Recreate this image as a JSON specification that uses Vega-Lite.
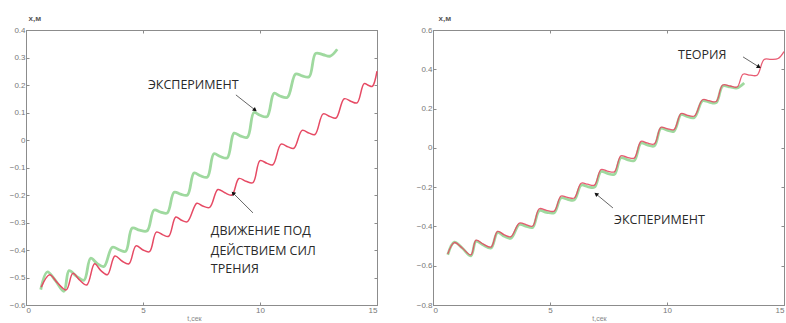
{
  "$schema": "https://vega.github.io/schema/vega-lite/v6.json",
  "autosize": {"type": "pad"},
  "padding": {"left": 8, "top": 13, "right": 0, "bottom": 0},
  "background": "white",
  "spacing": 56,
  "bounds": "flush",
  "config": {
    "view": {"stroke": "#8c8c8c", "strokeWidth": 1},
    "axis": {
      "grid": false,
      "labelFont": "Liberation Sans",
      "labelFontSize": 8,
      "labelColor": "#777777",
      "domainColor": "#8c8c8c",
      "tickColor": "#8c8c8c",
      "tickSize": -3,
      "labelPadding": 4,
      "titleFont": "Liberation Sans"
    }
  },
  "datasets": {
    "experiment": [
      {"t": 0.63, "x": -0.544}, {"t": 0.91, "x": -0.48}, {"t": 1.25, "x": -0.51}, {"t": 1.62, "x": -0.55},
      {"t": 1.84, "x": -0.475}, {"t": 2.15, "x": -0.495}, {"t": 2.48, "x": -0.51},
      {"t": 2.76, "x": -0.43}, {"t": 3.05, "x": -0.45}, {"t": 3.33, "x": -0.46},
      {"t": 3.69, "x": -0.39}, {"t": 4.0, "x": -0.4}, {"t": 4.26, "x": -0.405},
      {"t": 4.54, "x": -0.32}, {"t": 4.85, "x": -0.328}, {"t": 5.18, "x": -0.33},
      {"t": 5.47, "x": -0.255}, {"t": 5.75, "x": -0.262}, {"t": 6.04, "x": -0.265},
      {"t": 6.33, "x": -0.19}, {"t": 6.6, "x": -0.197}, {"t": 6.9, "x": -0.2},
      {"t": 7.18, "x": -0.12}, {"t": 7.45, "x": -0.13}, {"t": 7.75, "x": -0.135},
      {"t": 8.03, "x": -0.05}, {"t": 8.3, "x": -0.06}, {"t": 8.6, "x": -0.065},
      {"t": 8.89, "x": 0.025}, {"t": 9.15, "x": 0.015}, {"t": 9.46, "x": 0.01},
      {"t": 9.74, "x": 0.1}, {"t": 10.0, "x": 0.09}, {"t": 10.3, "x": 0.085},
      {"t": 10.6, "x": 0.17}, {"t": 10.85, "x": 0.16}, {"t": 11.17, "x": 0.155},
      {"t": 11.52, "x": 0.24}, {"t": 11.8, "x": 0.233}, {"t": 12.1, "x": 0.23},
      {"t": 12.38, "x": 0.315}, {"t": 12.7, "x": 0.31}, {"t": 13.0, "x": 0.305},
      {"t": 13.3, "x": 0.33}
    ],
    "friction": [
      {"t": 0.65, "x": -0.535}, {"t": 1.01, "x": -0.49}, {"t": 1.35, "x": -0.52}, {"t": 1.72, "x": -0.545},
      {"t": 2.0, "x": -0.485}, {"t": 2.3, "x": -0.51}, {"t": 2.6, "x": -0.527},
      {"t": 2.93, "x": -0.45}, {"t": 3.2, "x": -0.475}, {"t": 3.48, "x": -0.49},
      {"t": 3.8, "x": -0.422}, {"t": 4.1, "x": -0.44}, {"t": 4.4, "x": -0.45},
      {"t": 4.7, "x": -0.385}, {"t": 5.0, "x": -0.4}, {"t": 5.28, "x": -0.406},
      {"t": 5.57, "x": -0.335}, {"t": 5.85, "x": -0.345}, {"t": 6.1, "x": -0.35},
      {"t": 6.4, "x": -0.28}, {"t": 6.65, "x": -0.292}, {"t": 6.9, "x": -0.297},
      {"t": 7.3, "x": -0.23}, {"t": 7.55, "x": -0.24}, {"t": 7.85, "x": -0.245},
      {"t": 8.2, "x": -0.18}, {"t": 8.5, "x": -0.192}, {"t": 8.8, "x": -0.2},
      {"t": 9.1, "x": -0.14}, {"t": 9.4, "x": -0.15}, {"t": 9.7, "x": -0.155},
      {"t": 10.0, "x": -0.075}, {"t": 10.3, "x": -0.085}, {"t": 10.55, "x": -0.09},
      {"t": 10.9, "x": -0.015}, {"t": 11.2, "x": -0.025}, {"t": 11.45, "x": -0.03},
      {"t": 11.8, "x": 0.035}, {"t": 12.1, "x": 0.025}, {"t": 12.35, "x": 0.02},
      {"t": 12.7, "x": 0.095}, {"t": 13.0, "x": 0.085}, {"t": 13.25, "x": 0.08},
      {"t": 13.6, "x": 0.15}, {"t": 13.9, "x": 0.14}, {"t": 14.15, "x": 0.135},
      {"t": 14.45, "x": 0.205}, {"t": 14.65, "x": 0.198}, {"t": 14.8, "x": 0.195},
      {"t": 15.0, "x": 0.25}
    ],
    "theory": [
      {"t": 0.63, "x": -0.54}, {"t": 0.91, "x": -0.482}, {"t": 1.25, "x": -0.51}, {"t": 1.62, "x": -0.545},
      {"t": 1.84, "x": -0.47}, {"t": 2.15, "x": -0.49}, {"t": 2.48, "x": -0.505},
      {"t": 2.76, "x": -0.425}, {"t": 3.05, "x": -0.443}, {"t": 3.33, "x": -0.452},
      {"t": 3.69, "x": -0.383}, {"t": 4.0, "x": -0.392}, {"t": 4.26, "x": -0.398},
      {"t": 4.54, "x": -0.31}, {"t": 4.85, "x": -0.318}, {"t": 5.18, "x": -0.322},
      {"t": 5.47, "x": -0.245}, {"t": 5.75, "x": -0.252}, {"t": 6.04, "x": -0.255},
      {"t": 6.33, "x": -0.18}, {"t": 6.6, "x": -0.185}, {"t": 6.9, "x": -0.19},
      {"t": 7.18, "x": -0.11}, {"t": 7.45, "x": -0.118}, {"t": 7.75, "x": -0.122},
      {"t": 8.03, "x": -0.04}, {"t": 8.3, "x": -0.048}, {"t": 8.6, "x": -0.052},
      {"t": 8.89, "x": 0.033}, {"t": 9.15, "x": 0.025}, {"t": 9.46, "x": 0.02},
      {"t": 9.74, "x": 0.105}, {"t": 10.0, "x": 0.098}, {"t": 10.3, "x": 0.093},
      {"t": 10.6, "x": 0.175}, {"t": 10.85, "x": 0.167}, {"t": 11.17, "x": 0.162},
      {"t": 11.52, "x": 0.245}, {"t": 11.8, "x": 0.24}, {"t": 12.1, "x": 0.236},
      {"t": 12.38, "x": 0.32}, {"t": 12.7, "x": 0.315}, {"t": 13.0, "x": 0.31},
      {"t": 13.25, "x": 0.375}, {"t": 13.55, "x": 0.37}, {"t": 13.85, "x": 0.37},
      {"t": 14.15, "x": 0.45}, {"t": 14.45, "x": 0.45}, {"t": 14.75, "x": 0.455},
      {"t": 15.0, "x": 0.49}
    ],
    "notesL": [
      {"t": 5.21, "x": 0.2, "label": "ЭКСПЕРИМЕНТ"},
      {"t": 7.9, "x": -0.331, "label": "ДВИЖЕНИЕ ПОД"},
      {"t": 7.9, "x": -0.404, "label": "ДЕЙСТВИЕМ СИЛ"},
      {"t": 7.9, "x": -0.469, "label": "ТРЕНИЯ"}
    ],
    "notesR": [
      {"t": 10.47, "x": 0.473, "label": "ТЕОРИЯ"},
      {"t": 7.74, "x": -0.367, "label": "ЭКСПЕРИМЕНТ"}
    ],
    "arrowsL": [
      {"id": "a1", "t": 8.97, "x": 0.164, "t2": 9.79, "x2": 0.109},
      {"id": "a2", "t": 9.7, "x": -0.265, "t2": 8.85, "x2": -0.193}
    ],
    "arrowsR": [
      {"id": "b1", "t": 13.25, "x": 0.463, "t2": 13.93, "x2": 0.412},
      {"id": "b2", "t": 7.69, "x": -0.306, "t2": 6.97, "x2": -0.235}
    ]
  },
  "hconcat": [
    {
      "width": 351,
      "height": 275,
      "resolve": {"axis": {"x": "independent", "y": "independent"}},
      "layer": [
        {
          "data": {"name": "experiment"},
          "mark": {"type": "line", "color": "#9fd99f", "strokeWidth": 2.8, "interpolate": "catmull-rom"},
          "encoding": {
            "x": {"field": "t", "type": "quantitative", "scale": {"domain": [0, 15], "nice": false},
              "axis": {"values": [0, 5, 10, 15], "format": "d", "title": "t,сек", "titleFontSize": 7, "titleColor": "#888888", "titleFontWeight": "normal", "titleX": 168, "titleY": 9, "titleBaseline": "top"}},
            "y": {"field": "x", "type": "quantitative", "scale": {"domain": [-0.6, 0.4], "nice": false},
              "axis": {"values": [-0.6, -0.5, -0.4, -0.3, -0.2, -0.1, 0, 0.1, 0.2, 0.3, 0.4], "format": ".1~f", "title": "x,м", "titleAngle": 0, "titleAlign": "left", "titleBaseline": "bottom", "titleX": 2, "titleY": -8, "titleFontSize": 8, "titleColor": "#555555", "titleFontWeight": "bold"}}
          }
        },
        {
          "data": {"name": "friction"},
          "mark": {"type": "line", "color": "#e64a64", "strokeWidth": 1.5, "interpolate": "catmull-rom"},
          "encoding": {
            "x": {"field": "t", "type": "quantitative", "axis": {"orient": "top", "values": [0, 5, 10, 15], "labels": false, "title": null}},
            "y": {"field": "x", "type": "quantitative", "axis": {"orient": "right", "values": [-0.6, -0.5, -0.4, -0.3, -0.2, -0.1, 0, 0.1, 0.2, 0.3, 0.4], "labels": false, "title": null}}
          }
        },
        {
          "data": {"name": "arrowsL"},
          "mark": {"type": "rule", "color": "#666666", "strokeWidth": 1},
          "encoding": {
            "x": {"field": "t", "type": "quantitative", "axis": null},
            "y": {"field": "x", "type": "quantitative", "axis": null},
            "x2": {"field": "t2"},
            "y2": {"field": "x2"}
          }
        },
        {
          "data": {"name": "arrowsL"},
          "transform": [{"filter": "datum.id == 'a1'"}],
          "mark": {"type": "point", "shape": "triangle-up", "filled": true, "color": "#111111", "size": 22, "angle": 128, "opacity": 1},
          "encoding": {
            "x": {"field": "t2", "type": "quantitative", "axis": null},
            "y": {"field": "x2", "type": "quantitative", "axis": null}
          }
        },
        {
          "data": {"name": "arrowsL"},
          "transform": [{"filter": "datum.id == 'a2'"}],
          "mark": {"type": "point", "shape": "triangle-up", "filled": true, "color": "#111111", "size": 22, "angle": 315, "opacity": 1},
          "encoding": {
            "x": {"field": "t2", "type": "quantitative", "axis": null},
            "y": {"field": "x2", "type": "quantitative", "axis": null}
          }
        },
        {
          "data": {"name": "notesL"},
          "mark": {"type": "text", "align": "left", "baseline": "middle", "font": "Open Sans", "fontSize": 12.5, "color": "#2a2a2a"},
          "encoding": {
            "x": {"field": "t", "type": "quantitative", "axis": null},
            "y": {"field": "x", "type": "quantitative", "axis": null},
            "text": {"field": "label"}
          }
        }
      ]
    },
    {
      "width": 351,
      "height": 275,
      "resolve": {"axis": {"x": "independent", "y": "independent"}},
      "layer": [
        {
          "data": {"name": "experiment"},
          "mark": {"type": "line", "color": "#9fd99f", "strokeWidth": 2.8, "interpolate": "catmull-rom"},
          "encoding": {
            "x": {"field": "t", "type": "quantitative", "scale": {"domain": [0, 15], "nice": false},
              "axis": {"values": [0, 5, 10, 15], "format": "d", "title": "t,сек", "titleFontSize": 7, "titleColor": "#888888", "titleFontWeight": "normal", "titleX": 166, "titleY": 9, "titleBaseline": "top"}},
            "y": {"field": "x", "type": "quantitative", "scale": {"domain": [-0.8, 0.6], "nice": false},
              "axis": {"values": [-0.8, -0.6, -0.4, -0.2, 0, 0.2, 0.4, 0.6], "format": ".1~f", "title": "x,м", "titleAngle": 0, "titleAlign": "left", "titleBaseline": "bottom", "titleX": 5, "titleY": -8, "titleFontSize": 8, "titleColor": "#555555", "titleFontWeight": "bold"}}
          }
        },
        {
          "data": {"name": "theory"},
          "mark": {"type": "line", "color": "#e64a64", "strokeWidth": 1.3, "interpolate": "catmull-rom", "opacity": 0.9},
          "encoding": {
            "x": {"field": "t", "type": "quantitative", "axis": {"orient": "top", "values": [0, 5, 10, 15], "labels": false, "title": null}},
            "y": {"field": "x", "type": "quantitative", "axis": {"orient": "right", "values": [-0.8, -0.6, -0.4, -0.2, 0, 0.2, 0.4, 0.6], "labels": false, "title": null}}
          }
        },
        {
          "data": {"name": "arrowsR"},
          "mark": {"type": "rule", "color": "#666666", "strokeWidth": 1},
          "encoding": {
            "x": {"field": "t", "type": "quantitative", "axis": null},
            "y": {"field": "x", "type": "quantitative", "axis": null},
            "x2": {"field": "t2"},
            "y2": {"field": "x2"}
          }
        },
        {
          "data": {"name": "arrowsR"},
          "transform": [{"filter": "datum.id == 'b1'"}],
          "mark": {"type": "point", "shape": "triangle-up", "filled": true, "color": "#111111", "size": 22, "angle": 121, "opacity": 1},
          "encoding": {
            "x": {"field": "t2", "type": "quantitative", "axis": null},
            "y": {"field": "x2", "type": "quantitative", "axis": null}
          }
        },
        {
          "data": {"name": "arrowsR"},
          "transform": [{"filter": "datum.id == 'b2'"}],
          "mark": {"type": "point", "shape": "triangle-up", "filled": true, "color": "#111111", "size": 22, "angle": 309, "opacity": 1},
          "encoding": {
            "x": {"field": "t2", "type": "quantitative", "axis": null},
            "y": {"field": "x2", "type": "quantitative", "axis": null}
          }
        },
        {
          "data": {"name": "notesR"},
          "mark": {"type": "text", "align": "left", "baseline": "middle", "font": "Open Sans", "fontSize": 12.5, "color": "#2a2a2a"},
          "encoding": {
            "x": {"field": "t", "type": "quantitative", "axis": null},
            "y": {"field": "x", "type": "quantitative", "axis": null},
            "text": {"field": "label"}
          }
        }
      ]
    }
  ]
}
